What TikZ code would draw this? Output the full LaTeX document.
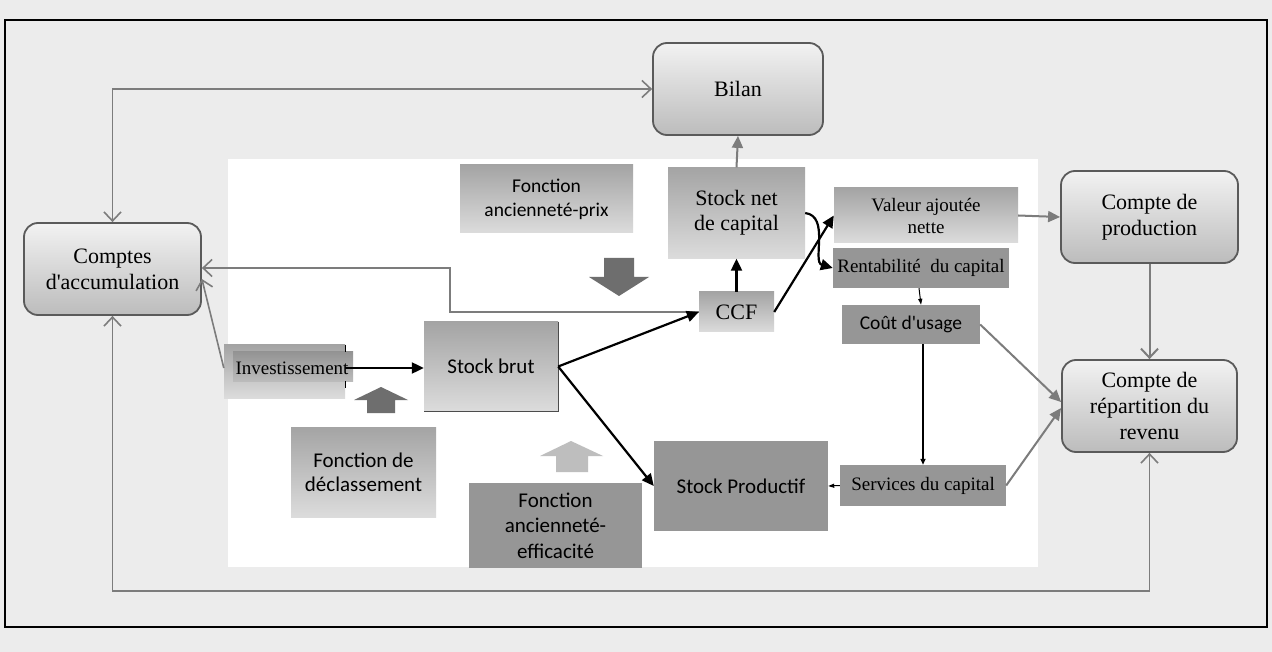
\documentclass[tikz,border=0pt]{standalone}
\usepackage{fontspec}
\newfontfamily\serifx{Liberation Serif}
\newfontfamily\sansx{Carlito}
\usetikzlibrary{arrows.meta,calc}
\definecolor{bgc}{HTML}{ECECEC}
\definecolor{edgec}{HTML}{5A5A5A}
\definecolor{rtop}{HTML}{F2F2F2}
\definecolor{rbot}{HTML}{BCBCBC}
\definecolor{gtop}{HTML}{A4A4A4}
\definecolor{gbot}{HTML}{DCDCDC}
\definecolor{dgray}{HTML}{969696}
\definecolor{linec}{HTML}{7C7C7C}
\definecolor{blockdark}{HTML}{6E6E6E}
\definecolor{blocklight}{HTML}{BEBEBE}
\tikzset{
  acct/.style={rounded corners=14pt, draw=edgec, line width=1.8pt,
    top color=rtop, bottom color=rbot, inner sep=0pt, align=center,
    font=\serifx\fontsize{22}{26}\selectfont},
  gbox/.style={top color=gtop, bottom color=gbot, inner sep=0pt, align=center},
  dbox/.style={fill=dgray, inner sep=0pt, align=center},
  serifsm/.style={font=\serifx\fontsize{19}{22}\selectfont},
  seriflg/.style={font=\serifx\fontsize{22}{25}\selectfont},
  sanssm/.style={font=\sansx\fontsize{19.5}{24}\selectfont},
  sanslg/.style={font=\sansx\fontsize{21}{24}\selectfont},
  loop/.style={draw=linec, line width=1.6pt, {Straight Barb[length=9pt,width=17pt]}-{Straight Barb[length=9pt,width=17pt]}},
  openarr/.style={draw=linec, line width=1.6pt, -{Straight Barb[length=9pt,width=17pt]}},
  grayarr/.style={draw=linec, line width=2pt, -{Triangle[length=12pt,width=11pt]}},
  blackarr/.style={draw=black, line width=2.2pt, -{Triangle[length=12pt,width=11pt]}},
  thinarr/.style={draw=black, line width=1pt, -{Triangle[length=6pt,width=4pt]}},
}
\begin{document}
\begin{tikzpicture}[x=1pt,y=-1pt]
\path[use as bounding box, fill=bgc] (0,0) rectangle (1272,652);
\draw[black, line width=2pt] (5,20) rectangle (1267,627);
% white working area
\fill[white] (228,159) rectangle (1038,567);

% accounts (rounded boxes)
\node[acct, minimum width=177pt, minimum height=92pt] (comptes) at (112.5,269) {Comptes\\d'accumulation};
\node[acct, minimum width=170pt, minimum height=92pt] (bilan) at (738,89) {Bilan};
\node[acct, minimum width=177pt, minimum height=92pt] (prod) at (1149.5,217) {Compte de\\production};
\node[acct, minimum width=175pt, minimum height=92pt] (repart) at (1149.5,406) {Compte de\\répartition du\\revenu};

% capital stock boxes
\node[gbox, sanssm, minimum width=173pt, minimum height=68pt] (prix) at (546.5,199) {Fonction\\ancienneté-prix};
\node[gbox, seriflg, minimum width=137pt, minimum height=91pt] (stocknet) at (736.5,213) {Stock net\\de capital};
\node[gbox, serifsm, minimum width=184pt, minimum height=55pt] (valeur) at (926,215.5) {Valeur ajoutée\\nette};
\node[dbox, serifsm, minimum width=176pt, minimum height=40pt] (rentab) at (921,268) {Rentabilité\ \ du capital};
\node[gbox, seriflg, minimum width=75pt, minimum height=40pt] (ccf) at (736.5,312) {CCF};
\node[dbox, sanssm, minimum width=138pt, minimum height=39pt] (cout) at (911,324.5) {Coût d'usage};
\node[dbox, serifsm, minimum width=166pt, minimum height=41pt] (services) at (923,485.5) {Services du capital};
\node[dbox, sanslg, minimum width=174pt, minimum height=90pt] (stockprod) at (741,486) {Stock Productif};
\node[gbox, sanslg, minimum width=134pt, minimum height=89pt] (stockbrut) at (491,366.5) {Stock brut};
\draw[black!70, line width=1pt] (stockbrut.north east) -- (stockbrut.south east) -- (stockbrut.south west);
\node[gbox, minimum width=121pt, minimum height=53pt] (invest) at (284.5,371.5) {};
\fill[top color=gtop!90!black, bottom color=gbot!85!black] (233,352) rectangle (353,381);
\draw[black, line width=1pt] (345,345) -- (345,352) (345,381) -- (345,388);
\node[serifsm, inner sep=0pt] (investtxt) at (292,368) {Investissement};
\node[gbox, sanslg, minimum width=145pt, minimum height=90pt] (declass) at (363.5,472) {Fonction de\\déclassement};
\node[dbox, font=\sansx\fontsize{21}{25.5}\selectfont, minimum width=173pt, minimum height=85pt] (effic) at (555.5,525.5) {Fonction\\ancienneté-\\efficacité};

% block arrows
\fill[blockdark] (604,258) -- (634,258) -- (634,277) -- (649,277) -- (619,296) -- (589,277) -- (604,277) -- cycle;
\fill[blockdark] (367,413) -- (395,413) -- (395,400) -- (408,400) -- (381,387) -- (354,400) -- (367,400) -- cycle;
\fill[blocklight] (556,472) -- (588,472) -- (588,456) -- (603,456) -- (571,441) -- (540,456) -- (556,456) -- cycle;

% outer loops between accounts
\draw[loop] (comptes.north) |- (bilan.west);
\coordinate (bl) at (112.5,591);
\coordinate (br) at (1149.5,591);
\draw[loop] (comptes.south) -- (bl) -- (br) -- (repart.south);

% flows back to the accumulation accounts
\coordinate (k1) at (450,312);
\coordinate (k2) at (450,268);
\draw[openarr] (ccf.west) -- (k1) -- (k2) -- (comptes.east |- k2);
\draw[openarr] (investtxt.west -| invest.west) -- ($(comptes.east)+(0,10)$);

% gray flows to the accounts
\draw[grayarr] (stocknet.north) -- (bilan.south);
\draw[grayarr] (valeur.east) -- (prod.west);
\draw[openarr, line width=2pt] (prod.south) -- (repart.north);
\draw[grayarr] (cout.east) -- ($(repart.west)+(0,-4)$);
\draw[grayarr] (services.east) -- ($(repart.west)+(0,2)$);

% black flows inside the capital block
\draw[blackarr] (invest.east |- investtxt) -- (stockbrut.west |- investtxt);
\draw[blackarr] (stockbrut.east) -- (ccf.west);
\draw[blackarr] (stockbrut.east) -- (stockprod.west);
\draw[blackarr] (ccf.north) -- (stocknet.south);
\draw[blackarr] (ccf.east) -- (valeur.west);
\draw[blackarr] (stocknet.east) .. controls (830,216) and (812,262) .. (rentab.west);
\draw[thinarr] ($(rentab.south)+(-2,0)$) -- ($(cout.north)+(10,0)$);
\draw[black, line width=2.5pt, -{Triangle[length=6pt,width=5pt]}] (services.north |- cout.south) -- (services.north);
\draw[thinarr] (services.west) -- (stockprod.east);
\end{tikzpicture}
\end{document}
